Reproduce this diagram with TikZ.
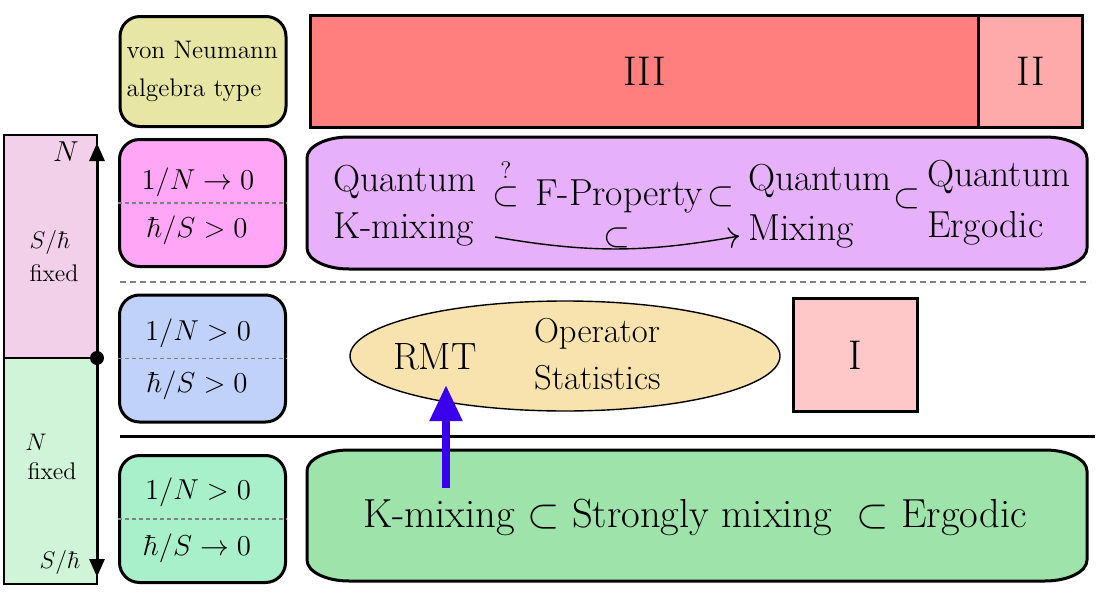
\documentclass[tikz,border=0pt]{standalone}
\usepackage{amsmath, amssymb}
\usepackage{fontspec}
\usepackage{tikz}
\usetikzlibrary{positioning}
\usetikzlibrary{calc,shapes.geometric}
\usetikzlibrary{arrows.meta}
\definecolor{limpink}{HTML}{F2D0EA}
\definecolor{limgreen}{HTML}{D0F4D8}
\definecolor{typeyel}{HTML}{E8E6A4}
\definecolor{condpink}{HTML}{FFA6F6}
\definecolor{condblue}{HTML}{C0D2FA}
\definecolor{condgreen}{HTML}{A8F0CA}
\definecolor{typeIII}{HTML}{FF7F7F}
\definecolor{typeII}{HTML}{FFAAAA}
\definecolor{typeI}{HTML}{FFC8C8}
\definecolor{quantcol}{HTML}{E6B0FA}
\definecolor{rmtcol}{HTML}{F8E2AE}
\definecolor{classcol}{HTML}{9EE4AA}
\definecolor{arrcol}{HTML}{3A00EE}
\tikzset{>=latex}

% box with elliptic corners: fill, x0, y0, x1, y1
\newcommand{\softbox}[5]{%
  \draw[line width=1.5pt,fill=#1] (#2,#3+21)
    arc[start angle=180,end angle=270,x radius=42,y radius=21] -- (#4-42,#3)
    arc[start angle=270,end angle=360,x radius=42,y radius=21] -- (#4,#5-21)
    arc[start angle=0,end angle=90,x radius=42,y radius=21] -- (#2+42,#5)
    arc[start angle=90,end angle=180,x radius=42,y radius=21] -- cycle;}

\begin{document}
\begin{tikzpicture}[x=0.5pt,y=-0.5pt,
  condbox/.style={draw, line width=1.5pt, rounded corners=10pt,
    minimum width=83pt, minimum height=63.5pt},
  condtxt/.style={font=\Large, inner sep=1pt},
  typebox/.style={draw, line width=1.5pt, outer sep=0pt, font=\huge},
  sepline/.style={gray, dashed, dash pattern=on 2pt off 1.5pt, line width=0.6pt},
  word/.style={anchor=base west, font=\fontsize{18.8}{22}\selectfont},
  rel/.style={anchor=base, font=\fontsize{18.8}{22}\selectfont}]
\useasboundingbox (0,0) rectangle (1104,594);

% Limits column
\draw[fill=limpink, line width=0.6pt] (4,135) rectangle (97,358);
\draw[fill=limgreen, line width=0.6pt] (4,358) rectangle (97,584);
\coordinate (split) at (97,358);
\coordinate (ntop) at (97,143);
\coordinate (sbot) at (97,577);
\draw[line width=1.5pt, -{Triangle[length=9pt,width=7.5pt]}] (split) -- (ntop);
\draw[line width=1.5pt, -{Triangle[length=9pt,width=7.5pt]}] (split) -- (sbot);
\fill (split) circle[radius=3.5pt];
\node[font=\Large] (nlabA) at (66,152) {$N$};
\node[font=\large] (shA) at (50,242) {$S/\hbar$};
\node[font=\large] (fixA) at (54,273) {fixed};
\node[font=\large] (nlabB) at (36,442) {$N$};
\node[font=\large] (fixB) at (52,471) {fixed};
\node[font=\large] (shB) at (60,562) {$S/\hbar$};

% Condition boxes
\node[condbox, fill=typeyel, minimum height=55pt] (vna) at (203,71.5) {};
\node[anchor=west, align=left, font=\fontsize{12.7}{19}\selectfont] (vnatxt) at (119.5,71) {von Neumann\\algebra type};

\node[condbox, fill=condpink] (pk) at (202.5,203) {};
\draw[sepline] (pk.west) -- (pk.east);
\node[condtxt] (pkA) at (198,182) {$1/N\to0$};
\node[condtxt] (pkB) at (197,230) {$\hbar/S>0$};

\node[condbox, fill=condblue] (bl) at (202.5,358.5) {};
\draw[sepline] (bl.west) -- (bl.east);
\node[condtxt] (blA) at (198,333) {$1/N>0$};
\node[condtxt] (blB) at (197,385) {$\hbar/S>0$};

\node[condbox, fill=condgreen] (gr) at (202.5,519) {};
\draw[sepline] (gr.west) -- (gr.east);
\node[condtxt] (grA) at (198,492) {$1/N>0$};
\node[condtxt] (grB) at (197,548) {$\hbar/S\to0$};

% Algebra types
\node[typebox, fill=typeIII, minimum width=334pt, minimum height=56pt] (tIII) at (644.5,71) {III};
\node[typebox, fill=typeII, minimum width=52pt, minimum height=56pt, right=0pt of tIII] (tII) {II};

% Quantum row
\softbox{quantcol}{307}{137}{1087}{269}
\node[word] (qA) at (326,191) {Quantum};
\node[word] (kmix) at (326,238) {K-mixing};
\node[rel] (qsub) at (506,205) {$\overset{?}{\subset}$};
\node[word] (fprop) at (528,205) {F-Property};
\node[rel] (subB) at (721,205) {$\subset$};
\node[word] (qB) at (741,190) {Quantum};
\node[word] (mix) at (741,240) {Mixing};
\node[rel] (subC) at (907,207) {$\subset$};
\node[word] (qC) at (920,186) {Quantum};
\node[word] (ergo) at (920,237) {Ergodic};
\draw[-{To[length=5pt]}, line width=0.7pt] ([shift={(14,8)}]kmix.east) to[bend right=10]
  node[midway, above=-3pt, font=\fontsize{18.8}{22}\selectfont] (subarr) {$\subset$} ([shift={(-2,5)}]mix.west);

\draw[gray, dashed, dash pattern=on 3pt off 2pt, line width=0.7pt] (120,282) -- (1090,282);

% Finite N row
\node[ellipse, draw, line width=0.7pt, fill=rmtcol, minimum width=215pt, minimum height=55pt, inner sep=0pt] (ops) at (565,356) {};
\node[anchor=base west, font=\fontsize{19}{22}\selectfont] (rmt) at (386,369) {RMT};
\node[anchor=base west, font=\fontsize{17.3}{20}\selectfont] (opA) at (527,342) {Operator};
\node[anchor=base west, font=\fontsize{17.3}{20}\selectfont] (opB) at (527,389) {Statistics};
\node[typebox, fill=typeI, minimum width=62pt, minimum height=56.5pt] (tI) at (855,355) {I};

\draw[line width=1.5pt] (120,436) -- (1095,436);

% Classical row
\softbox{classcol}{307}{450}{1087}{581}
\node[anchor=base, font=\fontsize{20.3}{24}\selectfont] (classtxt) at (695,527) {K-mixing $\subset$ Strongly mixing \ $\subset$ Ergodic};

\coordinate (rmtfoot) at (446,488);
\coordinate (rmttip) at (446,385);
\draw[arrcol, line width=4pt, -{Triangle[length=18pt,width=15.5pt]}] (rmtfoot) -- (rmttip);
\end{tikzpicture}
\end{document}
